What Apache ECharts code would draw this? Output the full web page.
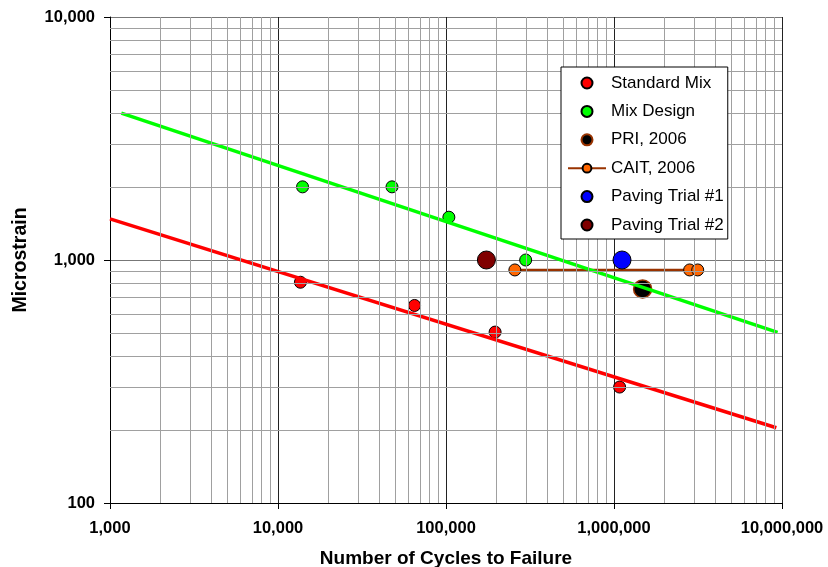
<!DOCTYPE html>
<html>
<head>
<meta charset="utf-8">
<script src="https://cdn.jsdelivr.net/npm/echarts@6/dist/echarts.min.js"></script>
<style>
  html, body { margin: 0; padding: 0; background: #fff; }
  #chart { width: 828px; height: 567px; }
</style>
</head>
<body>
<div id="chart"></div>
<script>
// Fatigue data: cycles to failure vs. microstrain
const standardMix = [[13600, 810], [65000, 650], [196000, 505], [1080000, 300]];
const mixDesign = [[14000, 2000], [47700, 2000], [104000, 1500], [298000, 1000]];
const pri2006 = [[1480000, 760]];
const cait2006 = [[257000, 910], [2820000, 910], [3150000, 910]];
const pavingTrial1 = [[1116000, 1000]];
const pavingTrial2 = [[174000, 1000]];

// Power-law trend lines (end points)
const standardMixTrend = [[1000, 1476], [9250000, 204]];
const mixDesignTrend = [[1168, 4022], [9415000, 504]];

// Axis ranges and gridline multipliers inside each decade
const xDecades = [1000, 10000, 100000, 1000000];
const yDecades = [100, 1000];
const minorSteps = [2, 3, 4, 5, 6, 7, 8, 9];

const FONT = 'Arial, "Liberation Sans", sans-serif';

const minorX = [];
xDecades.forEach(d => minorSteps.forEach(m => minorX.push({ xAxis: d * m })));
const minorY = [];
yDecades.forEach(d => minorSteps.forEach(m => minorY.push({ yAxis: d * m })));

const fmt = v => Math.round(v).toLocaleString('en-US');

const scatterStyle = (color, border) => ({
  color: color, borderColor: border || '#000', borderWidth: 1, opacity: 1
});

const chart = echarts.init(document.getElementById('chart'), null, { renderer: 'canvas' });
chart.setOption({
  animation: false,
  backgroundColor: '#fff',
  grid: { left: 110, right: 46, top: 17, bottom: 64, containLabel: false, outerBoundsMode: 'none' },
  xAxis: {
    type: 'log', logBase: 10, min: 1000, max: 10000000,
    name: 'Number of Cycles to Failure', nameLocation: 'middle', nameGap: 46,
    nameTextStyle: { fontFamily: FONT, fontSize: 19, fontWeight: 'bold', color: '#000' },
    axisLine: { lineStyle: { color: '#000', width: 1 } },
    axisTick: { show: true, length: 6, lineStyle: { color: '#000' } },
    axisLabel: { formatter: fmt, fontFamily: FONT, fontSize: 16.5, fontWeight: 'bold', color: '#000', margin: 17 },
    splitLine: { show: true, lineStyle: { color: '#222', width: 1 } }
  },
  yAxis: {
    type: 'log', logBase: 10, min: 100, max: 10000,
    name: 'Microstrain', nameLocation: 'middle', nameGap: 79, nameRotate: 90,
    nameTextStyle: { fontFamily: FONT, fontSize: 19.5, fontWeight: 'bold', color: '#000' },
    axisLine: { lineStyle: { color: '#000', width: 1 } },
    axisTick: { show: true, length: 6, lineStyle: { color: '#000' } },
    axisLabel: { formatter: fmt, fontFamily: FONT, fontSize: 16.5, fontWeight: 'bold', color: '#000', margin: 15 },
    splitLine: { show: true, lineStyle: { color: '#777', width: 1 } }
  },
  legend: {
    orient: 'vertical', left: 561, top: 67, z: 20,
    data: ['Standard Mix', 'Mix Design', 'PRI, 2006', 'CAIT, 2006', 'Paving Trial #1', 'Paving Trial #2'],
    backgroundColor: '#fff', borderColor: '#000', borderWidth: 1, borderRadius: 0,
    padding: [7, 4, 5, 6], itemGap: 10.4, itemWidth: 38, itemHeight: 11,
    textStyle: { fontFamily: FONT, fontSize: 17, color: '#000', lineHeight: 18 }
  },
  series: [
    {
      name: 'minor grid', type: 'line', data: [], silent: true, z: 0,
      markLine: {
        silent: true, symbol: ['none', 'none'], label: { show: false },
        lineStyle: { type: 'solid', color: '#a0a0a0', width: 1 },
        data: minorX.concat(minorY), animation: false
      }
    },
    {
      name: 'Standard Mix', type: 'scatter', data: standardMix, symbol: 'circle', symbolSize: 12,
      itemStyle: scatterStyle('#ff0000'), z: 3
    },
    {
      name: 'Mix Design', type: 'scatter', data: mixDesign, symbol: 'circle', symbolSize: 12,
      itemStyle: scatterStyle('#00ff00'), z: 3
    },
    {
      name: 'PRI, 2006', type: 'scatter', data: pri2006, symbol: 'circle', symbolSize: 18,
      itemStyle: { color: '#000', borderColor: '#993300', borderWidth: 1.5, opacity: 1 }, z: 3
    },
    {
      name: 'CAIT, 2006', type: 'line', data: cait2006, symbol: 'circle', symbolSize: 12,
      lineStyle: { color: '#993300', width: 2.5 },
      itemStyle: { color: '#ff6600', borderColor: '#000', borderWidth: 1, opacity: 1 }, z: 3
    },
    {
      name: 'Paving Trial #1', type: 'scatter', data: pavingTrial1, symbol: 'circle', symbolSize: 18,
      itemStyle: scatterStyle('#0000ff'), z: 3
    },
    {
      name: 'Paving Trial #2', type: 'scatter', data: pavingTrial2, symbol: 'circle', symbolSize: 18,
      itemStyle: scatterStyle('#800000'), z: 3
    },
    {
      name: 'Standard Mix trend', type: 'line', data: standardMixTrend, symbol: 'none',
      lineStyle: { color: '#ff0000', width: 3.5 }, silent: true, z: 4
    },
    {
      name: 'Mix Design trend', type: 'line', data: mixDesignTrend, symbol: 'none',
      lineStyle: { color: '#00ff00', width: 3.5 }, silent: true, z: 4
    }
  ]
});
</script>
</body>
</html>
